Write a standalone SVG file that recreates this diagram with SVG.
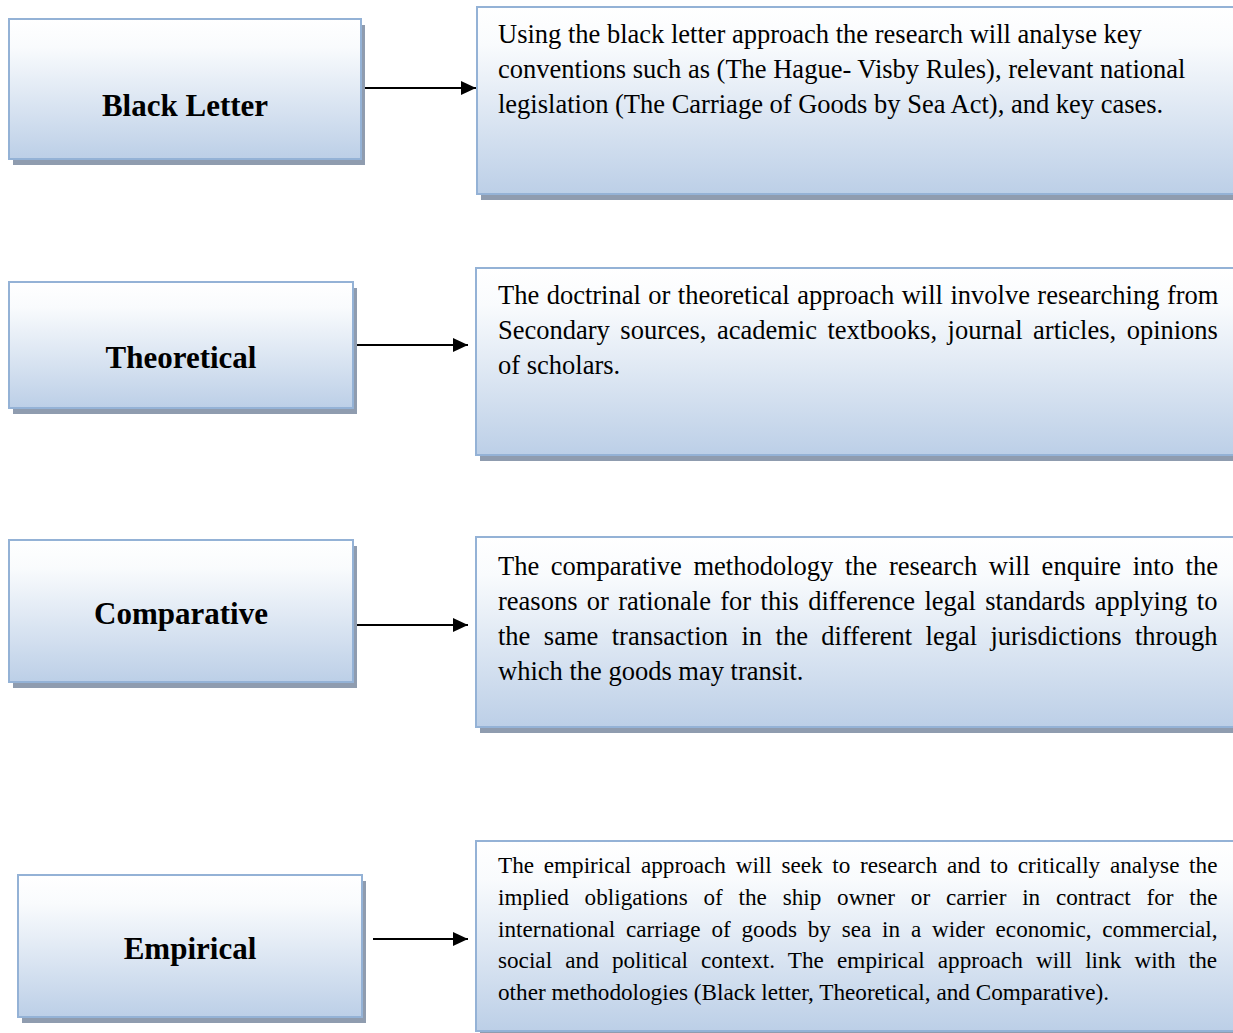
<svg xmlns="http://www.w3.org/2000/svg" width="1233" height="1033" viewBox="0 0 1233 1033">
<style>
.box{fill:url(#g);stroke:#94B2D6;stroke-width:2}
.sh{fill:#8F9CAF}
.lbl{font-family:"Liberation Serif","Times New Roman",serif;font-weight:bold;font-size:31px;fill:#000;text-anchor:middle}
.t{font-family:"Liberation Serif","Times New Roman",serif;font-size:26.5px;fill:#000}
.s{font-family:"Liberation Serif","Times New Roman",serif;font-size:23.2px;fill:#000}
.c{stroke:#000;stroke-width:2;fill:none;marker-end:url(#ah)}
</style>
<defs>
<linearGradient id="g" x1="0" y1="0" x2="0" y2="1">
<stop offset="0" stop-color="#FFFFFF"/>
<stop offset="0.2" stop-color="#F9FBFD"/>
<stop offset="1" stop-color="#BCCFE7"/>
</linearGradient>
<marker id="ah" markerUnits="userSpaceOnUse" markerWidth="16" markerHeight="14" refX="15" refY="7" orient="auto">
<path d="M0,0 L15,7 L0,14 z" fill="#000"/>
</marker>
</defs>

<g id="connectors">
<line class="c" x1="362" y1="88" x2="476" y2="88"/>
<line class="c" x1="354" y1="345" x2="468" y2="345"/>
<line class="c" x1="354" y1="625" x2="468" y2="625"/>
<line class="c" x1="373" y1="939" x2="468" y2="939"/>
</g>

<g id="node-black-letter">
<rect class="sh" x="13" y="25" width="352" height="140"/>
<rect class="box" x="9" y="19" width="352" height="140"/>
<text class="lbl" x="185" y="116">Black Letter</text>
</g>
<g id="node-theoretical">
<rect class="sh" x="13" y="288" width="344" height="126"/>
<rect class="box" x="9" y="282" width="344" height="126"/>
<text class="lbl" x="181" y="368">Theoretical</text>
</g>
<g id="node-comparative">
<rect class="sh" x="13" y="546" width="344" height="142"/>
<rect class="box" x="9" y="540" width="344" height="142"/>
<text class="lbl" x="181" y="624">Comparative</text>
</g>
<g id="node-empirical">
<rect class="sh" x="22" y="881" width="344" height="142"/>
<rect class="box" x="18" y="875" width="344" height="142"/>
<text class="lbl" x="190" y="959">Empirical</text>
</g>

<g id="desc-black-letter">
<rect class="sh" x="481" y="13" width="800" height="187"/>
<rect class="box" x="477" y="7" width="800" height="187"/>
<text class="t" x="498" y="43">Using the black letter approach the research will analyse key</text>
<text class="t" x="498" y="78">conventions such as (The Hague- Visby Rules), relevant national</text>
<text class="t" x="498" y="113">legislation (The Carriage of Goods by Sea Act), and key cases.</text>
</g>
<g id="desc-theoretical">
<rect class="sh" x="480" y="274" width="800" height="187"/>
<rect class="box" x="476" y="268" width="800" height="187"/>
<text class="t" x="498" y="304" word-spacing="0.84">The doctrinal or theoretical approach will involve researching from</text>
<text class="t" x="498" y="339" word-spacing="3.84">Secondary sources, academic textbooks, journal articles, opinions</text>
<text class="t" x="498" y="374">of scholars.</text>
</g>
<g id="desc-comparative">
<rect class="sh" x="480" y="543" width="800" height="190"/>
<rect class="box" x="476" y="537" width="800" height="190"/>
<text class="t" x="498" y="575" word-spacing="5.0">The comparative methodology the research will enquire into the</text>
<text class="t" x="498" y="610" word-spacing="2.72">reasons or rationale for this difference legal standards applying to</text>
<text class="t" x="498" y="645" word-spacing="6.83">the same transaction in the different legal jurisdictions through</text>
<text class="t" x="498" y="680">which the goods may transit.</text>
</g>
<g id="desc-empirical">
<rect class="sh" x="480" y="847" width="800" height="190"/>
<rect class="box" x="476" y="841" width="800" height="190"/>
<text class="s" x="498" y="873" word-spacing="3.89">The empirical approach will seek to research and to critically analyse the</text>
<text class="s" x="498" y="905" word-spacing="9.98">implied obligations of the ship owner or carrier in contract for the</text>
<text class="s" x="498" y="937" word-spacing="4.99">international carriage of goods by sea in a wider economic, commercial,</text>
<text class="s" x="498" y="968" word-spacing="7.37">social and political context. The empirical approach will link with the</text>
<text class="s" x="498" y="1000">other methodologies (Black letter, Theoretical, and Comparative).</text>
</g>
</svg>
